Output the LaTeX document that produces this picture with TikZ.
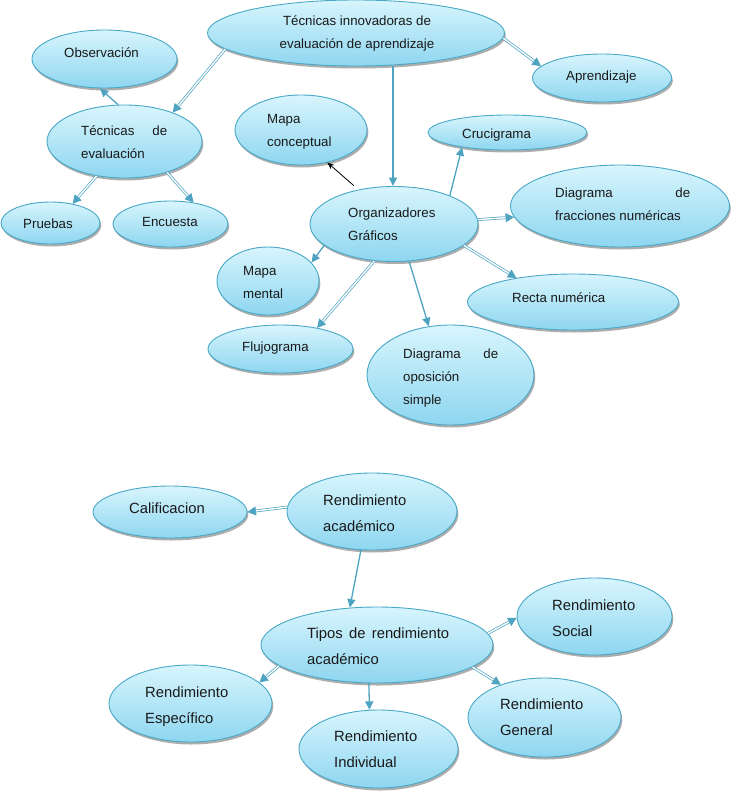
\documentclass[tikz,border=0pt]{standalone}
\usepackage{fontspec}
\setmainfont{Liberation Sans}
\usetikzlibrary{shapes.geometric,arrows.meta,shadows}
\definecolor{ftop}{RGB}{216,245,253}
\definecolor{fbot}{RGB}{142,214,240}
\definecolor{bord}{RGB}{72,168,198}
\definecolor{arrc}{RGB}{78,163,193}
\definecolor{txtc}{RGB}{25,25,25}
\newcommand{\mylines}[1]{\begin{tabular}[t]{@{}l@{}}#1\end{tabular}}
\newcommand{\mylinesc}[1]{\begin{tabular}[t]{@{}c@{}}#1\end{tabular}}
\tikzset{
  bub/.style={ellipse, draw=bord, line width=0.9pt, top color=ftop, bottom color=fbot,
    inner sep=0pt, drop shadow={shadow xshift=1.3pt, shadow yshift=-2.5pt, fill=black, opacity=0.32}},
  txs/.style={inner sep=0pt, text=txtc, anchor=base west, font=\fontsize{13.3}{23}\selectfont},
  txb/.style={inner sep=0pt, text=txtc, anchor=base west, font=\fontsize{14.8}{25.8}\selectfont},
  sarr/.style={draw=arrc, line width=1.3pt, -{Triangle[length=8.5pt,width=8pt]}},
  darr/.style={draw=arrc, line width=0.7pt, double=white, double distance=1.4pt, -{Triangle[length=8.5pt,width=9pt]}},
  blkarr/.style={draw=black, line width=0.8pt, -{Stealth[length=7pt,width=5.5pt]}}
}
\begin{document}
\begin{tikzpicture}[x=1pt,y=-1pt]
\useasboundingbox (0,0) rectangle (731,803);
% ---------- top map ----------
\node[bub, minimum width=297pt, minimum height=66pt] (A) at (356,33) {};
\node[bub, minimum width=139pt, minimum height=48pt] (B) at (602,78) {};
\node[bub, minimum width=145pt, minimum height=58pt] (C) at (104.5,59) {};
\node[bub, minimum width=155pt, minimum height=73pt] (D) at (124.5,141.5) {};
\node[bub, minimum width=99pt, minimum height=42pt] (E) at (50.5,223) {};
\node[bub, minimum width=115pt, minimum height=46pt] (F) at (170.5,224) {};
\node[bub, minimum width=132pt, minimum height=70pt] (G) at (301,130) {};
\node[bub, minimum width=159pt, minimum height=35pt] (H) at (507.5,132.5) {};
\node[bub, minimum width=168pt, minimum height=75pt] (I) at (394,224) {};
\node[bub, minimum width=219pt, minimum height=82pt] (J) at (620,206) {};
\node[bub, minimum width=102pt, minimum height=68pt] (K) at (268,281) {};
\node[bub, minimum width=145pt, minimum height=48pt] (L) at (280.5,349) {};
\node[bub, minimum width=167pt, minimum height=100pt] (M) at (450.5,375) {};
\node[bub, minimum width=211pt, minimum height=56pt] (N) at (573,302) {};
% ---------- bottom map ----------
\node[bub, minimum width=154pt, minimum height=52pt] (O) at (170,512) {};
\node[bub, minimum width=170pt, minimum height=77pt] (P) at (372,511.5) {};
\node[bub, minimum width=232pt, minimum height=76pt] (Q) at (377,645) {};
\node[bub, minimum width=155pt, minimum height=77pt] (R) at (594.5,616.5) {};
\node[bub, minimum width=163pt, minimum height=77pt] (S) at (190.5,703.5) {};
\node[bub, minimum width=159pt, minimum height=78pt] (T) at (378.5,749) {};
\node[bub, minimum width=153pt, minimum height=79pt] (U) at (544.5,717.5) {};
% ---------- texts ----------
\node[txs, anchor=base] (At) at (357,25) {\mylinesc{Técnicas innovadoras de\\evaluación de aprendizaje}};
\node[txs] (Bt) at (566,80) {Aprendizaje};
\node[txs] (Ct) at (64,57) {Observación};
\node[txs] (Dt) at (81,135) {\mylines{\makebox[86pt][s]{Técnicas de}\\evaluación}};
\node[txs] (Et) at (23,228) {Pruebas};
\node[txs] (Ft) at (142,226) {Encuesta};
\node[txs] (Gt) at (267,123) {\mylines{Mapa\\conceptual}};
\node[txs] (Ht) at (462,138) {Crucigrama};
\node[txs] (It) at (348,217) {\mylines{Organizadores\\Gráficos}};
\node[txs] (Jt) at (555,197) {\mylines{\makebox[135pt][s]{Diagrama de}\\fracciones numéricas}};
\node[txs] (Kt) at (243,275) {\mylines{Mapa\\mental}};
\node[txs] (Lt) at (242,351) {Flujograma};
\node[txs] (Mt) at (403,358) {\mylines{\makebox[95pt][s]{Diagrama de}\\oposición\\simple}};
\node[txs] (Nt) at (512,302) {Recta numérica};
\node[txb] (Ot) at (129,513.5) {Calificacion};
\node[txb] (Pt) at (323,505.5) {\mylines{Rendimiento\\académico}};
\node[txb] (Qt) at (307,638.5) {\mylines{\makebox[142pt][s]{Tipos de rendimiento}\\académico}};
\node[txb] (Rt) at (552,610.5) {\mylines{Rendimiento\\Social}};
\node[txb] (St) at (145,697.5) {\mylines{Rendimiento\\Específico}};
\node[txb] (Tt) at (334,741.5) {\mylines{Rendimiento\\Individual}};
\node[txb] (Ut) at (500,709.5) {\mylines{Rendimiento\\General}};
% ---------- connectors top ----------
\draw[darr] (A.187.5) -- (D.31);
\draw[sarr] (D.100.7) -- (C.261);
\draw[darr] (D.231) -- (E.41.6);
\draw[darr] (D.324.5) -- (F.43);
\draw[darr] (A.358) -- (B.169);
\draw[sarr] (A.south -| I.north) ++(-1,0) -- ([xshift=-1pt]I.north);
\draw[blkarr, shorten <=6pt] (I.136.4) -- (G.309.8);
\draw[sarr] (I.27.4) -- (H.198.6);
\draw[darr] (I.3.4) -- (J.186.8);
\draw[darr] (I.343.6) -- (N.157.6);
\draw[sarr] (I.197.5) -- (K.23.4);
\draw[darr] (I.242.9) -- (L.30.4);
\draw[sarr] (I.292.5) -- (M.114.2);
% ---------- connectors bottom ----------
\draw[darr] (P.177) -- (O.east);
\draw[sarr] (P.254.4) -- (Q.126);
\draw[darr] (Q.6) -- (R.181);
\draw[darr] (Q.347.8) -- (U.143.2);
\draw[sarr] (Q.258) -- (T.103.7);
\draw[darr] (Q.192.7) -- (S.17.9);
\end{tikzpicture}
\end{document}
